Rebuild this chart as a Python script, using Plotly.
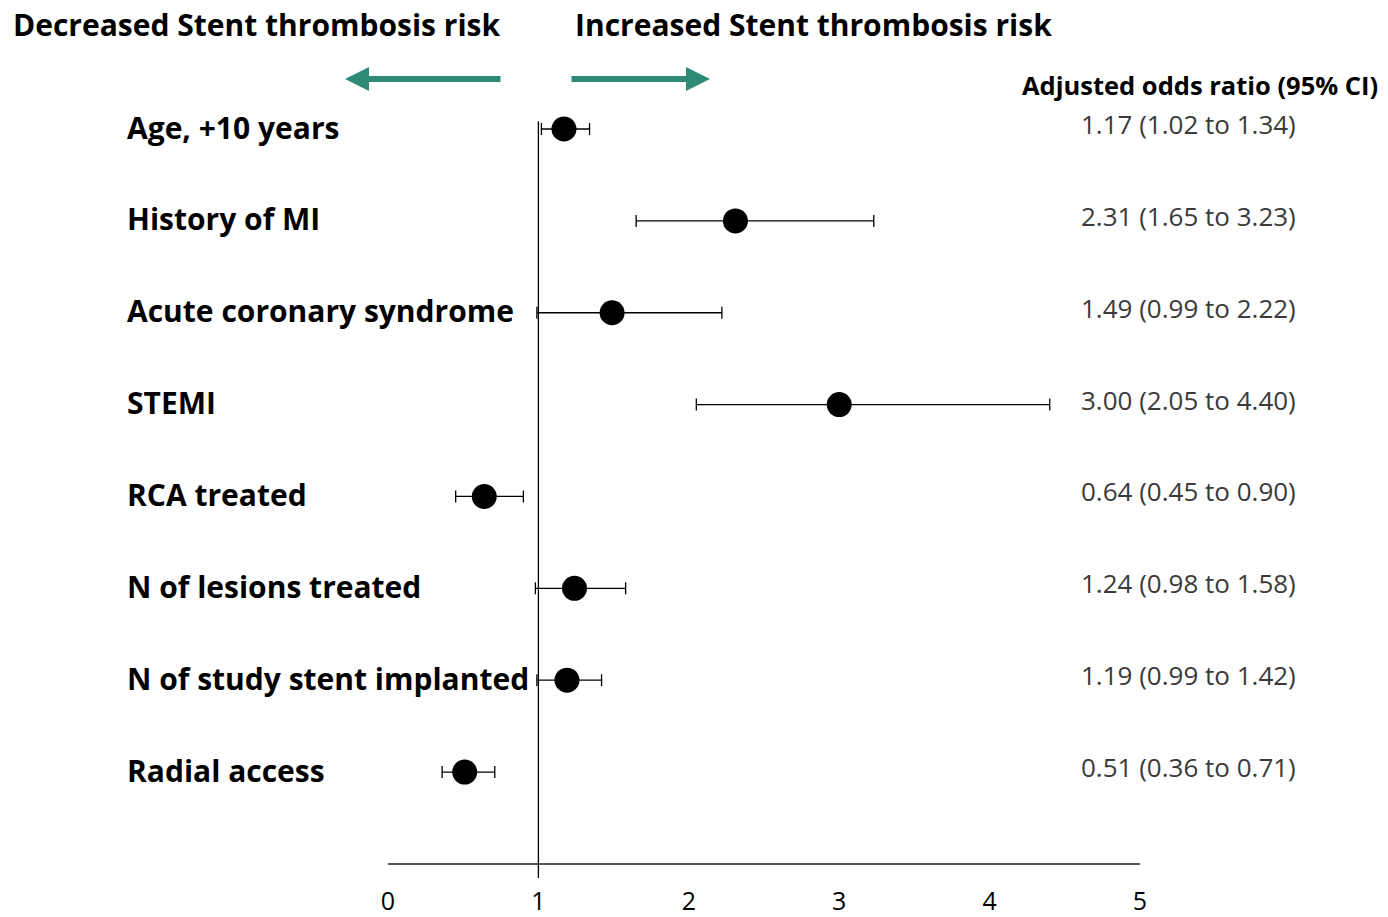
import plotly.graph_objects as go

# Forest plot data: adjusted odds ratios with 95% confidence intervals
labels = [
    "Age, +10 years",
    "History of MI",
    "Acute coronary syndrome",
    "STEMI",
    "RCA treated",
    "N of lesions treated",
    "N of study stent implanted",
    "Radial access",
]
odds_ratio = [1.17, 2.31, 1.49, 3.00, 0.64, 1.24, 1.19, 0.51]
ci_low = [1.02, 1.65, 0.99, 2.05, 0.45, 0.98, 0.99, 0.36]
ci_high = [1.34, 3.23, 2.22, 4.40, 0.90, 1.58, 1.42, 0.71]
x_ticks = [0, 1, 2, 3, 4, 5]

rows = list(range(len(labels)))
FONT = "Open Sans"
TEAL = "#2f8a76"

fig = go.Figure()
fig.add_trace(go.Scatter(
    x=odds_ratio,
    y=rows,
    mode="markers",
    marker=dict(size=25, color="black"),
    error_x=dict(
        type="data",
        symmetric=False,
        array=[h - m for h, m in zip(ci_high, odds_ratio)],
        arrayminus=[m - l for m, l in zip(odds_ratio, ci_low)],
        color="black",
        thickness=1.3,
        width=6,
    ),
    showlegend=False,
    hoverinfo="skip",
))

annotations = []
# Row labels (left) and OR text (right)
for i, (lab, m, lo, hi) in enumerate(zip(labels, odds_ratio, ci_low, ci_high)):
    annotations.append(dict(
        x=-0.3497, y=i, xref="paper", yref="y", text=f"<b>{lab}</b>",
        showarrow=False, xanchor="left", yanchor="middle", yshift=2,
        font=dict(family=FONT, size=30, color="black"),
    ))
    annotations.append(dict(
        x=0.9189, y=i, xref="paper", yref="y",
        text=f"{m:.2f} ({lo:.2f} to {hi:.2f})",
        showarrow=False, xanchor="left", yanchor="middle", yshift=5,
        font=dict(family=FONT, size=26, color="#3a3a3a"),
    ))

# Column header and direction titles
annotations.append(dict(
    x=1.3185, y=1.0332, xref="paper", yref="paper",
    text="<b>Adjusted odds ratio (95% CI)</b>", showarrow=False,
    xanchor="right", yanchor="middle",
    font=dict(family=FONT, size=25.5, color="black"),
))
annotations.append(dict(
    x=-0.5013, y=1.1142, xref="paper", yref="paper",
    text="<b>Decreased Stent thrombosis risk</b>", showarrow=False,
    xanchor="left", yanchor="middle",
    font=dict(family=FONT, size=30, color="black"),
))
annotations.append(dict(
    x=0.2460, y=1.1142, xref="paper", yref="paper",
    text="<b>Increased Stent thrombosis risk</b>", showarrow=False,
    xanchor="left", yanchor="middle",
    font=dict(family=FONT, size=30, color="black"),
))

# Direction arrows
annotations.append(dict(
    x=-0.0572, y=1.0412, xref="paper", yref="paper", ax=157, ay=0,
    showarrow=True, arrowhead=2, arrowsize=0.8, arrowwidth=6,
    arrowcolor=TEAL, text="",
))
annotations.append(dict(
    x=0.4282, y=1.0412, xref="paper", yref="paper", ax=-140, ay=0,
    showarrow=True, arrowhead=2, arrowsize=0.8, arrowwidth=6,
    arrowcolor=TEAL, text="",
))

# Line of no effect at OR = 1
shapes = [dict(
    type="line", xref="x", yref="paper", x0=1, x1=1, y0=-0.02, y1=0.985,
    line=dict(color="black", width=1.3),
)]

fig.update_layout(
    width=1388, height=917,
    margin=dict(l=388, r=248, t=110, b=54),
    paper_bgcolor="white", plot_bgcolor="white",
    annotations=annotations,
    shapes=shapes,
    xaxis=dict(
        range=[0, 5], tickvals=x_ticks, ticktext=[str(t) for t in x_ticks],
        showgrid=False, zeroline=False, showline=True,
        linecolor="#555555", linewidth=2, ticks="",
        ticklabelstandoff=15, automargin=False,
        tickfont=dict(family=FONT, size=25, color="black"),
    ),
    yaxis=dict(
        range=[7.99, -0.207], showgrid=False, zeroline=False,
        showticklabels=False, showline=False, ticks="", automargin=False,
    ),
)

fig.write_html("out.html")
